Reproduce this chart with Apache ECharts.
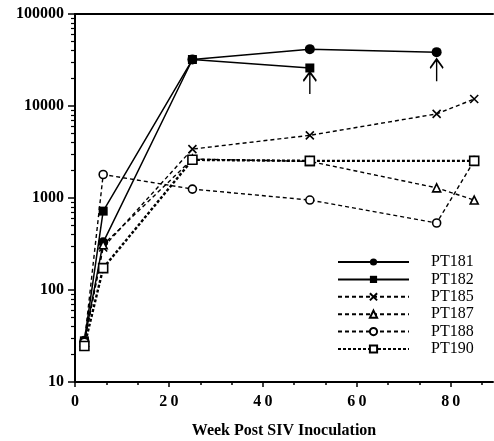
<!DOCTYPE html>
<html>
<head>
<meta charset="utf-8">
<script src="https://cdn.jsdelivr.net/npm/echarts@6/dist/echarts.min.js"></script>
<style>
  html, body { margin: 0; padding: 0; background: #fff; }
  #chart { width: 494px; height: 441px; }
</style>
</head>
<body>
<div id="chart"></div>
<script>
// values: [week, viral load]
const pt181 = [[2, 28], [6, 330], [25, 32000], [50, 41500], [77, 38500]]
const pt182 = [[2, 28], [6, 720], [25, 32000], [50, 25900]]
const pt185 = [[2, 27], [6, 290], [25, 3400], [50, 4800], [77, 8200], [85, 11900]]
const pt187 = [[2, 27], [6, 310], [25, 2650], [50, 2500], [77, 1290], [85, 950]]
const pt188 = [[2, 27], [6, 1800], [25, 1250], [50, 950], [77, 535], [85, 2550]]
const pt190 = [[2, 24.6], [6, 173], [25, 2600], [50, 2530], [85, 2530]]

const xTicks = [0, 20, 40, 60, 80]
const xMinorTicks = [6.67, 13.33, 26.67, 33.33, 46.67, 53.33, 66.67, 73.33, 86.67]
const yTicks = [10, 100, 1000, 10000, 100000]
const yMinorTicks = [20, 30, 40, 50, 60, 70, 80, 90, 200, 300, 400, 500, 600, 700, 800, 900,
  2000, 3000, 4000, 5000, 6000, 7000, 8000, 9000, 20000, 30000, 40000, 50000, 60000, 70000, 80000, 90000]

// arrows marking the last sample of PT182 and PT181
const arrowPoints = { PT182: [50, 25900], PT181: [77, 38500] }

const serif = "'Liberation Serif', 'Times New Roman', serif"
const arrowPath = 'path://M6.5,0 L6.5,22 M0,9 L6.5,0 L13,9'
const crossPath = 'path://M0,0 L10,10 M10,0 L0,10'

const chart = echarts.init(document.getElementById('chart'))

function makeSeries(name, data, symbol, size, fill, line, arrow, offset) {
  const s = {
    name: name,
    type: 'line',
    data: data,
    symbol: symbol,
    symbolSize: size,
    showAllSymbol: true,
    animation: false,
    lineStyle: line,
    itemStyle: { color: fill, borderColor: '#000', borderWidth: fill === '#fff' || symbol === crossPath ? 1.6 : 0 },
    emphasis: { disabled: true }
  }
  if (arrow) {
    s.markPoint = {
      symbol: arrowPath,
      symbolSize: [13, 22],
      symbolOffset: [0, offset],
      label: { show: false },
      itemStyle: { color: 'none', borderColor: '#000', borderWidth: 1.8 },
      data: [{ coord: arrow }]
    }
  }
  return s
}

const solid = { color: '#000', width: 1.5, type: 'solid' }
const dashed = { color: '#000', width: 1.4, type: [4, 3] }
const dotted = { color: '#000', width: 2.4, type: [3, 2] }

const option = {
  backgroundColor: '#fff',
  animation: false,
  grid: { left: 75, top: 14, width: 418, height: 368, outerBoundsMode: 'none' },
  legend: {
    orient: 'vertical',
    left: 337,
    top: 254,
    padding: 0,
    itemWidth: 71,
    itemHeight: 9,
    itemGap: 1.4,
    textStyle: { fontFamily: serif, fontSize: 16, color: '#000', lineHeight: 16, padding: [0, 0, 0, 17] },
    data: ['PT181', 'PT182', 'PT185', 'PT187', 'PT188', 'PT190']
  },
  xAxis: [
    {
      type: 'value', min: 0, max: 89, interval: 20,
      name: 'Week Post SIV Inoculation', nameLocation: 'middle', nameGap: 41,
      nameTextStyle: { fontFamily: serif, fontSize: 16, fontWeight: 'bold', color: '#000' },
      axisLine: { show: true, lineStyle: { color: '#000', width: 2 } },
      axisTick: { show: true, inside: false, length: 5, customValues: xTicks, lineStyle: { color: '#000', width: 1.5 } },
      axisLabel: {
        customValues: xTicks, margin: 12, color: '#000', fontFamily: serif, fontSize: 16, fontWeight: 'bold',
        formatter: v => String(v).split('').join('\u2009')
      },
      splitLine: { show: false }
    },
    {
      type: 'value', min: 0, max: 89, position: 'bottom',
      axisLine: { show: false },
      axisTick: { show: true, length: 3, customValues: xMinorTicks, lineStyle: { color: '#000', width: 1.5 } },
      axisLabel: { show: false },
      splitLine: { show: false }
    },
    {
      type: 'value', min: 0, max: 89, position: 'top',
      axisLine: { show: true, lineStyle: { color: '#000', width: 2 } },
      axisTick: { show: false },
      axisLabel: { show: false },
      splitLine: { show: false }
    }
  ],
  yAxis: [
    {
      type: 'log', min: 10, max: 100000, logBase: 10,
      axisLine: { show: true, lineStyle: { color: '#000', width: 2 } },
      axisTick: { show: true, inside: false, length: 7, customValues: yTicks, lineStyle: { color: '#000', width: 1.5 } },
      axisLabel: {
        customValues: yTicks, margin: 11, color: '#000', fontFamily: serif, fontSize: 16, fontWeight: 'bold',
        formatter: v => String(Math.round(v))
      },
      splitLine: { show: false }
    },
    {
      type: 'log', min: 10, max: 100000, logBase: 10, position: 'left',
      axisLine: { show: false },
      axisTick: { show: true, length: 4, customValues: yMinorTicks, lineStyle: { color: '#000', width: 1.2 } },
      axisLabel: { show: false },
      splitLine: { show: false }
    }
  ],
  series: [
    makeSeries('PT181', pt181, 'circle', 10, '#000', solid, arrowPoints.PT181, 18),
    makeSeries('PT182', pt182, 'rect', 9, '#000', solid, arrowPoints.PT182, 15),
    makeSeries('PT185', pt185, crossPath, 8, '#000', dashed),
    makeSeries('PT187', pt187, 'triangle', 8, '#fff', dashed),
    makeSeries('PT188', pt188, 'circle', 8, '#fff', dashed),
    makeSeries('PT190', pt190, 'rect', 9, '#fff', dotted)
  ]
}

chart.setOption(option)

window.addEventListener('resize', () => {
  if (chart) {
    chart.resize()
  }
})
</script>
</body>
</html>
